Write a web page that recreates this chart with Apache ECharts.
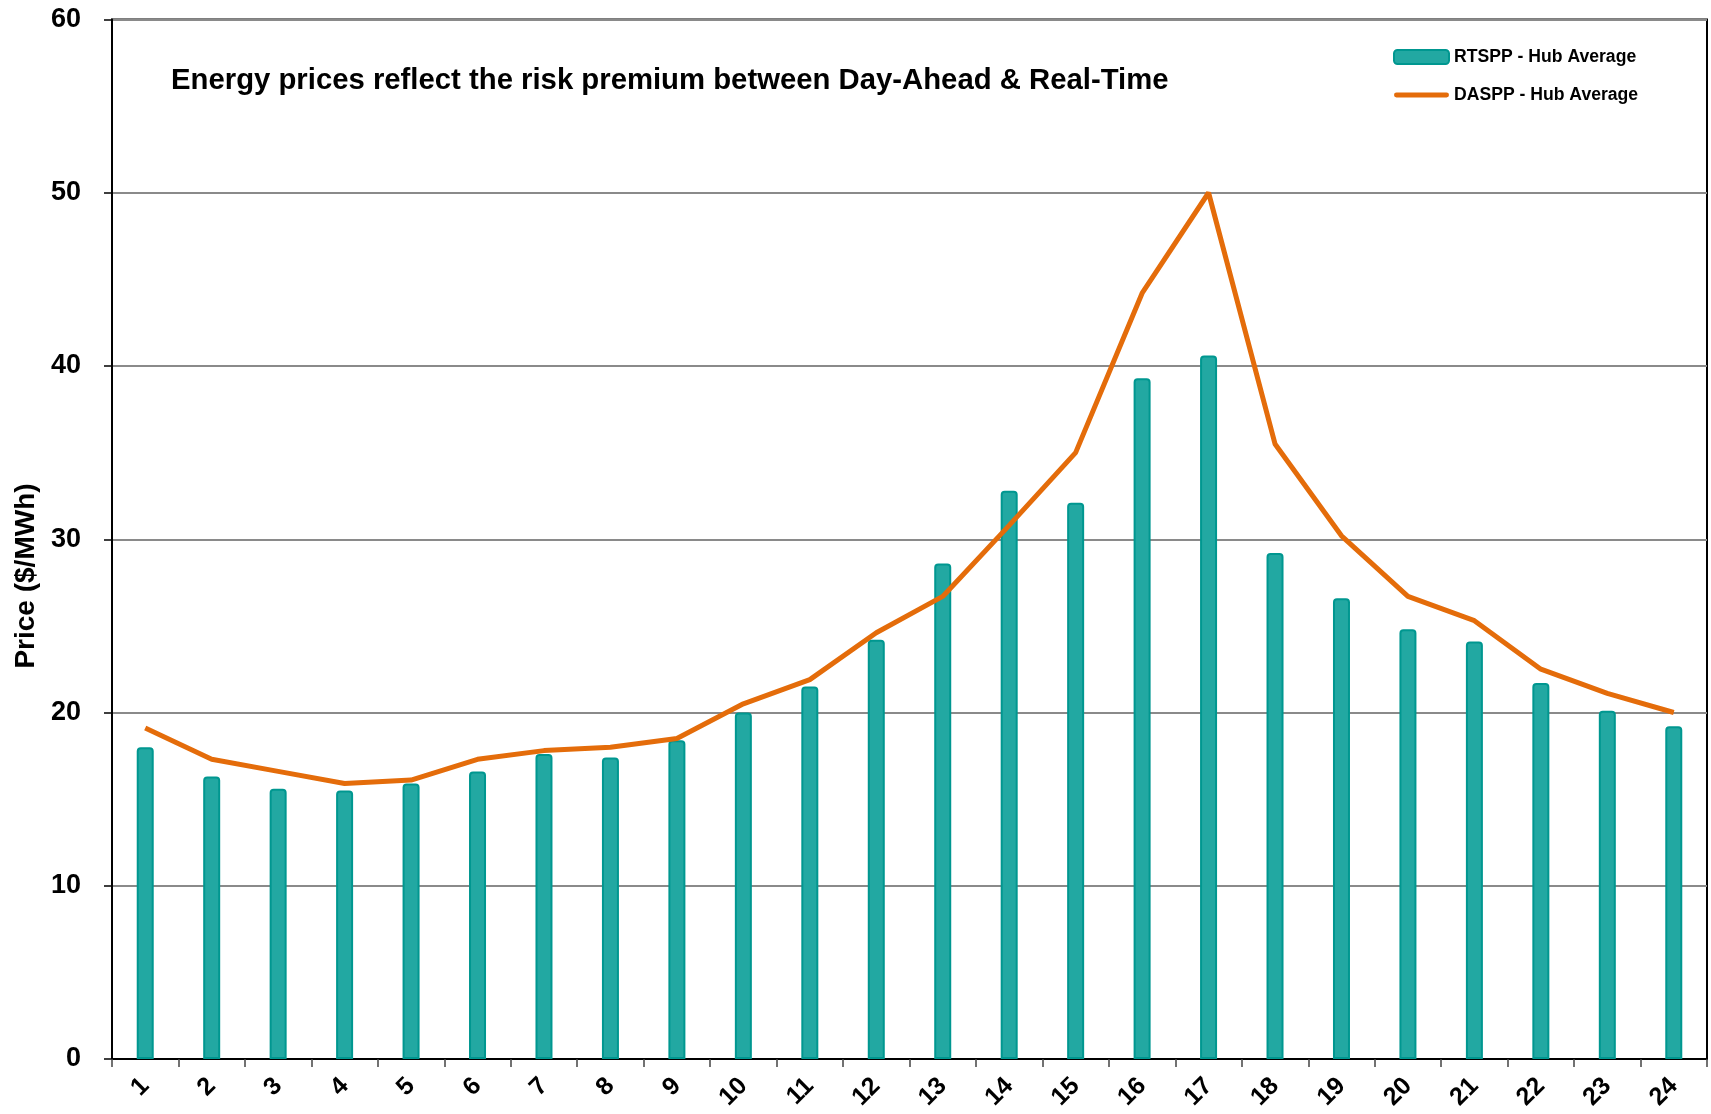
<!DOCTYPE html>
<html>
<head>
<meta charset="utf-8">
<script src="https://cdn.jsdelivr.net/npm/echarts@6/dist/echarts.min.js"></script>
<style>
  html, body { margin: 0; padding: 0; background: #fff; }
  #chart { width: 1711px; height: 1114px; }
</style>
</head>
<body>
<div id="chart"></div>
<script>
// hours of the day
const hours = ['1','2','3','4','5','6','7','8','9','10','11','12','13','14','15','16','17','18','19','20','21','22','23','24'];
// real-time prices (bars)
const rtspp = [18.0, 16.3, 15.6, 15.5, 15.9, 16.6, 17.6, 17.4, 18.4, 20.0, 21.5, 24.2, 28.6, 32.8, 32.1, 39.3, 40.6, 29.2, 26.6, 24.8, 24.1, 21.7, 20.1, 19.2];
// day-ahead prices (line)
const daspp = [19.1, 17.3, 16.6, 15.9, 16.1, 17.3, 17.8, 18.0, 18.5, 20.5, 21.9, 24.6, 26.7, 30.8, 35.0, 44.2, 50.0, 35.5, 30.2, 26.7, 25.3, 22.5, 21.1, 20.0];
const yTicks = [0, 10, 20, 30, 40, 50, 60];

const font = 'Liberation Sans, Arial, sans-serif';
const orange = '#e46c0a';

let myChart = echarts.init(document.getElementById('chart'));
myChart.setOption({
  animation: false,
  textStyle: { fontFamily: font },
  title: {
    text: 'Energy prices reflect the risk premium between Day-Ahead & Real-Time',
    left: 166,
    top: 61,
    textStyle: { fontSize: 29.3, fontWeight: 'bold', color: '#000', fontFamily: font }
  },
  legend: {
    orient: 'vertical',
    left: 1388,
    top: 43,
    itemGap: 20,
    itemWidth: 55,
    itemHeight: 14,
    textStyle: { fontSize: 17.6, fontWeight: 'bold', color: '#000', fontFamily: font },
    data: [
      { name: 'RTSPP - Hub Average', icon: 'roundRect' },
      { name: 'DASPP - Hub Average', icon: 'path://M2,0 H53 A2,2 0 0 1 53,5 H2 A2,2 0 0 1 2,0 Z', itemStyle: { color: orange } }
    ]
  },
  grid: {
    left: 112,
    right: 4,
    top: 19.5,
    bottom: 55,
    show: true,
    borderColor: '#000',
    borderWidth: 2
  },
  graphic: [
    {
      type: 'text',
      x: 26,
      y: 576,
      rotation: Math.PI / 2,
      style: {
        text: 'Price ($/MWh)',
        fontSize: 28,
        fontWeight: 'bold',
        fontFamily: font,
        fill: '#000',
        align: 'center',
        verticalAlign: 'middle'
      }
    }
  ],
  xAxis: {
    type: 'category',
    data: hours,
    boundaryGap: true,
    axisLine: { lineStyle: { color: '#000', width: 2 } },
    axisTick: { show: true, alignWithLabel: false, length: 8, lineStyle: { color: '#444', width: 1.5 } },
    axisLabel: {
      rotate: 45,
      margin: 23,
      fontSize: 25,
      fontWeight: 'bold',
      color: '#000',
      fontFamily: font
    }
  },
  yAxis: {
    type: 'value',
    min: yTicks[0],
    max: yTicks[yTicks.length - 1],
    interval: 10,
    axisLine: { show: true, lineStyle: { color: '#000', width: 2 } },
    axisTick: { show: true, length: 8, lineStyle: { color: '#000', width: 1.5 } },
    axisLabel: { margin: 31, fontSize: 27, fontWeight: 'bold', color: '#000', fontFamily: font },
    splitLine: { show: true, lineStyle: { color: '#8a8a8a', width: 2 } }
  },
  series: [
    {
      name: 'RTSPP - Hub Average',
      type: 'bar',
      data: rtspp,
      barWidth: 17,
      itemStyle: {
        color: '#22a8a2',
        borderColor: '#009790',
        borderWidth: 2,
        borderRadius: [3, 3, 0, 0]
      },
      z: 2
    },
    {
      name: 'DASPP - Hub Average',
      type: 'line',
      data: daspp,
      symbol: 'none',
      lineStyle: { color: orange, width: 5 },
      itemStyle: { color: orange },
      z: 3
    }
  ]
});
</script>
</body>
</html>
